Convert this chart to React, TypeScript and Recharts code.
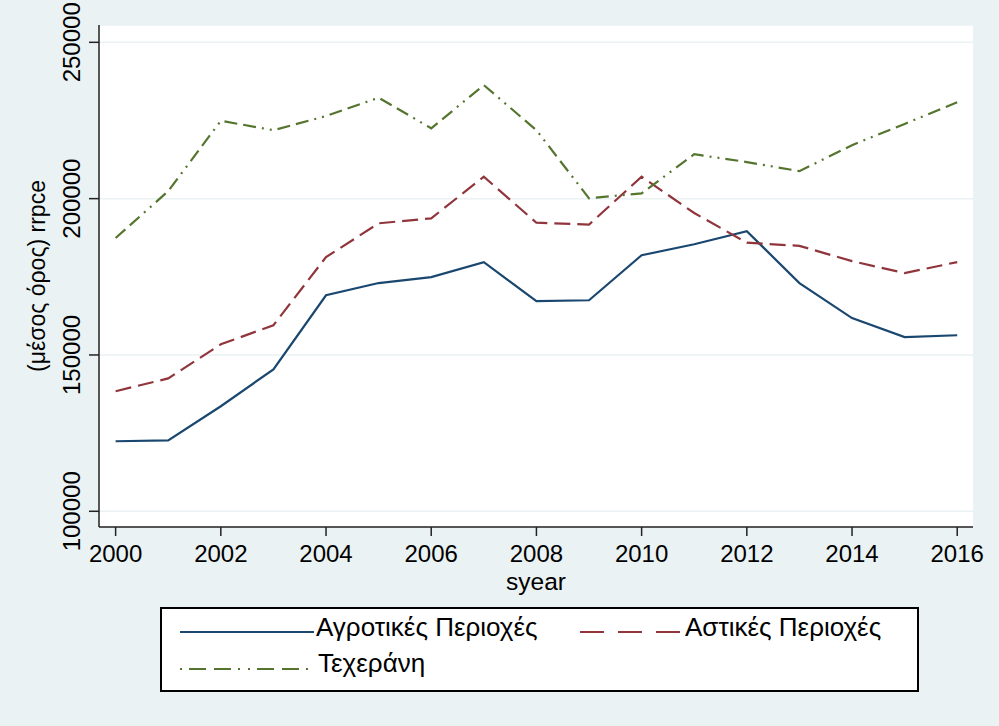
import React from 'react';
import { LineChart, Line, XAxis, YAxis, CartesianGrid } from 'recharts';

const years = [2000, 2001, 2002, 2003, 2004, 2005, 2006, 2007, 2008, 2009, 2010, 2011, 2012, 2013, 2014, 2015, 2016];
const rural = [122400, 122700, 133600, 145400, 169100, 173000, 174900, 179700, 167200, 167500, 181900, 185400, 189600, 173000, 161800, 155700, 156300];
const urban = [138400, 142500, 153400, 159500, 181300, 192100, 193700, 207000, 192300, 191700, 207000, 195400, 185900, 184900, 180000, 176200, 179700];
const tehran = [187400, 202400, 224900, 221900, 226400, 232300, 222500, 236300, 221900, 200100, 201700, 214200, 211700, 208800, 217100, 223900, 230800];

const xTicks = [2000, 2002, 2004, 2006, 2008, 2010, 2012, 2014, 2016];
const yTicks = [100000, 150000, 200000, 250000];

const seriesNames = ['Αγροτικές Περιοχές', 'Αστικές Περιοχές', 'Τεχεράνη'];
const xTitle = 'syear';
const yTitle = '(μέσος όρος) rrpce';

const NAVY = '#1a476f';
const MAROON = '#90353b';
const GREEN = '#55752f';
const BG = '#eaf2f3';
const FONT = 'Liberation Sans, Arial, sans-serif';

const data = years.map((y, i) => ({ year: y, rural: rural[i], urban: urban[i], tehran: tehran[i] }));

const XTick = (props: any) => {
  const { x, y, payload } = props;
  return (
    <text x={x} y={y + 26} textAnchor="middle" fontSize={24} fill="#000" fontFamily={FONT}>
      {payload.value}
    </text>
  );
};

const YTick = (props: any) => {
  const { x, y, payload } = props;
  const bx = x - 9;
  return (
    <text x={bx} y={y} transform={`rotate(-90 ${bx} ${y})`} textAnchor="middle" fontSize={24} fill="#000" fontFamily={FONT}>
      {payload.value}
    </text>
  );
};

const XLabel = (props: any) => {
  const vb = props.viewBox || { x: 0, y: 0, width: 0 };
  return (
    <text x={vb.x + vb.width / 2} y={vb.y + 62.5} textAnchor="middle" fontSize={24.5} fill="#000" fontFamily={FONT}>
      {xTitle}
    </text>
  );
};

const YLabel = (props: any) => {
  const vb = props.viewBox || { x: 0, y: 0, height: 0 };
  const cx = 45;
  const cy = vb.y + vb.height / 2;
  return (
    <text x={cx} y={cy} transform={`rotate(-90 ${cx} ${cy})`} textAnchor="middle" fontSize={23} fill="#000" fontFamily={FONT}>
      {yTitle}
    </text>
  );
};

const LegendBox = () => (
  <div style={{ position: 'absolute', left: 160, top: 607, width: 760, height: 86 }}>
    <svg width={760} height={86} style={{ display: 'block' }}>
      <rect x={1} y={1} width={757} height={83} fill="#fff" stroke="#000" strokeWidth={2} />
      <line x1={20} y1={25} x2={154} y2={25} stroke={NAVY} strokeWidth={2} />
      <text x={156} y={29} fontSize={26} fill="#000" fontFamily={FONT}>{seriesNames[0]}</text>
      <line x1={420} y1={25} x2={522} y2={25} stroke={MAROON} strokeWidth={2} strokeDasharray="24 14" />
      <text x={525} y={29} fontSize={26} fill="#000" fontFamily={FONT}>{seriesNames[1]}</text>
      <line x1={20} y1={62} x2={152} y2={62} stroke={GREEN} strokeWidth={2} strokeDasharray="2 7 17 8 17 7 2 8" />
      <text x={158} y={65} fontSize={26} fill="#000" fontFamily={FONT}>{seriesNames[2]}</text>
    </svg>
  </div>
);

export default function App() {
  return (
    <div style={{ position: 'absolute', left: 0, top: 0, width: 999, height: 726, background: BG, fontFamily: FONT }}>
      <LineChart width={999} height={726} data={data} margin={{ top: 25, right: 26, left: 0, bottom: 139 }}>
        <CartesianGrid horizontal={true} vertical={false} fill="#ffffff" stroke={BG} strokeWidth={1.5} />
        <XAxis
          dataKey="year"
          type="number"
          domain={[1999.684, 2016.3]}
          ticks={xTicks}
          interval={0}
          allowDataOverflow
          height={60}
          tickSize={9}
          tickMargin={0}
          tick={<XTick />}
          axisLine={{ stroke: '#222', strokeWidth: 1.5 }}
          tickLine={{ stroke: '#222', strokeWidth: 1.5 }}
          label={<XLabel />}
        />
        <YAxis
          type="number"
          domain={[94974, 255538]}
          ticks={yTicks}
          interval={0}
          allowDataOverflow
          width={99}
          tickSize={10}
          tickMargin={0}
          tick={<YTick />}
          axisLine={{ stroke: '#222', strokeWidth: 1.5 }}
          tickLine={{ stroke: '#222', strokeWidth: 1.5 }}
          label={<YLabel />}
        />
        <Line type="linear" dataKey="rural" stroke={NAVY} strokeWidth={2.2} dot={false} isAnimationActive={false} />
        <Line type="linear" dataKey="urban" stroke={MAROON} strokeWidth={2.2} strokeDasharray="16 7" dot={false} isAnimationActive={false} />
        <Line type="linear" dataKey="tehran" stroke={GREEN} strokeWidth={2.2} strokeDasharray="13 6 13 6 2 6 2 6" dot={false} isAnimationActive={false} />
      </LineChart>
      <LegendBox />
    </div>
  );
}
